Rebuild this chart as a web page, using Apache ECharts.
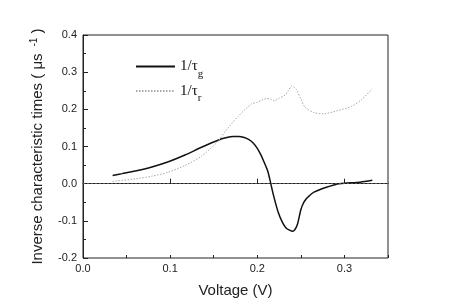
<!DOCTYPE html>
<html>
<head>
<meta charset="utf-8">
<script src="https://cdn.jsdelivr.net/npm/echarts@6/dist/echarts.min.js"></script>
<style>html,body{margin:0;padding:0;background:#fff}#c{width:450px;height:308px}</style>
</head>
<body>
<div id="c"></div>
<script>
// 1/tau_g : [voltage, value]
const tauG = [
  [0.034,0.022],[0.045,0.027],[0.06,0.034],[0.079,0.045],[0.098,0.059],[0.117,0.077],
  [0.136,0.098],[0.155,0.117],[0.165,0.124],[0.172,0.127],[0.179,0.127],[0.185,0.124],
  [0.19,0.119],[0.195,0.110],[0.2,0.095],[0.204,0.078],[0.208,0.057],[0.212,0.034],
  [0.2155,0.0],[0.219,-0.035],[0.224,-0.077],[0.229,-0.105],[0.233,-0.119],[0.237,-0.125],
  [0.2405,-0.128],[0.243,-0.124],[0.246,-0.110],[0.25,-0.070],[0.253,-0.052],[0.256,-0.041],
  [0.26,-0.032],[0.265,-0.023],[0.275,-0.013],[0.29,-0.002],[0.3,0.001],[0.318,0.004],[0.332,0.009]
];
// 1/tau_r : [voltage, value]
const tauR = [
  [0.034,0.006],[0.06,0.013],[0.079,0.020],[0.098,0.031],[0.117,0.049],[0.136,0.074],
  [0.155,0.114],[0.163,0.140],[0.178,0.181],[0.1936,0.215],[0.2,0.219],[0.205,0.225],
  [0.2108,0.229],[0.215,0.228],[0.2195,0.223],[0.225,0.230],[0.2318,0.238],[0.236,0.252],
  [0.2394,0.263],[0.2425,0.259],[0.2451,0.253],[0.25,0.228],[0.2547,0.206],[0.2642,0.192],
  [0.2757,0.188],[0.2929,0.197],[0.3082,0.208],[0.3196,0.226],[0.3318,0.255]
];
const xRange = [0, 0.35];
const yRange = [-0.2, 0.4];
const baseline = 0;

const sans = 'Liberation Sans, Arial, sans-serif';
const serif = 'Liberation Serif, Times New Roman, serif';
const chart = echarts.init(document.getElementById('c'));
chart.setOption({
  animation: false,
  backgroundColor: '#fff',
  grid: {left: 83, right: 62, top: 35, bottom: 50, show: true, borderColor: '#222', borderWidth: 1},
  legend: {
    orient: 'vertical', left: 135, top: 59, padding: 0, itemWidth: 39, itemHeight: 14, itemGap: 4,
    data: ['g', 'r'],
    itemStyle: {color: 'transparent', borderWidth: 0, opacity: 0},
    formatter: n => '{a|1/τ}{s|' + n + '}',
    textStyle: {
      rich: {
        a: {fontFamily: serif, fontSize: 15, color: '#111', lineHeight: 16},
        s: {fontFamily: serif, fontSize: 11, color: '#111', verticalAlign: 'bottom', lineHeight: 11, padding: [0,0,-5,0]}
      }
    }
  },
  xAxis: [{
    type: 'value', min: xRange[0], max: xRange[1], interval: 0.1,
    name: 'Voltage (V)', nameLocation: 'middle', nameGap: 25,
    nameTextStyle: {fontFamily: sans, fontSize: 15, color: '#222'},
    axisLine: {show: true, lineStyle: {color: '#222', width: 1}},
    axisTick: {show: true, inside: true, length: 5, lineStyle: {color: '#222'}},
    axisLabel: {showMaxLabel: false, margin: 5, fontFamily: sans, fontSize: 11, color: '#222', formatter: v => v.toFixed(1)},
    splitLine: {show: false}
  }, {
    type: 'value', min: xRange[0], max: xRange[1], interval: 0.05, position: 'bottom',
    axisLine: {show: false},
    axisTick: {show: true, inside: true, length: 3, lineStyle: {color: '#222'}},
    axisLabel: {show: false}, splitLine: {show: false}
  }],
  yAxis: {
    type: 'value', min: yRange[0], max: yRange[1], interval: 0.1,
    name: '{a|Inverse characteristic times ( μs }{p| -1}{a| )}', nameLocation: 'middle', nameGap: 36,
    nameTextStyle: {
      rich: {
        a: {fontFamily: sans, fontSize: 15, color: '#222', lineHeight: 18},
        p: {fontFamily: sans, fontSize: 10, color: '#222', verticalAlign: 'top', lineHeight: 10}
      }
    },
    axisLine: {show: true, lineStyle: {color: '#222', width: 1}},
    axisTick: {show: true, inside: true, length: 5, lineStyle: {color: '#222'}},
    minorTick: {show: true, splitNumber: 2, length: 3, lineStyle: {color: '#222'}},
    axisLabel: {margin: 6, fontFamily: sans, fontSize: 11, color: '#222', formatter: v => v.toFixed(1)},
    splitLine: {show: false}
  },
  series: [{
    name: 'g', type: 'line', data: tauG, smooth: 0.25, showSymbol: false, symbol: 'none',
    lineStyle: {color: '#111', width: 1.5}, itemStyle: {color: '#111'},
    markLine: {
      silent: true, symbol: 'none', label: {show: false},
      lineStyle: {color: '#555', type: [2, 2], width: 1},
      data: [{yAxis: baseline}]
    }
  }, {
    name: 'r', type: 'line', data: tauR, smooth: 0.25, showSymbol: false, symbol: 'none',
    lineStyle: {color: '#aaa', width: 1, type: [1.5, 1.5]}, itemStyle: {color: '#aaa'}
  }]
});
</script>
</body>
</html>
